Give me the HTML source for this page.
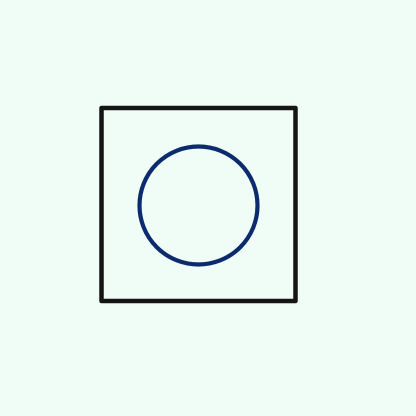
<!DOCTYPE html>
<html><head><meta charset="utf-8"><style>
html,body{margin:0;padding:0;background:#f0fdf6;}
svg{display:block;}
</style></head><body>
<svg width="416" height="416" viewBox="0 0 416 416">
<rect x="0" y="0" width="416" height="416" fill="#f0fdf6"/>
<rect x="101.5" y="108" width="194" height="193" fill="none" stroke="#151515" stroke-width="4.5" stroke-linejoin="round"/>
<circle cx="198.5" cy="205.5" r="59" fill="none" stroke="#0c2a6e" stroke-width="4.2"/>
</svg>
</body></html>
